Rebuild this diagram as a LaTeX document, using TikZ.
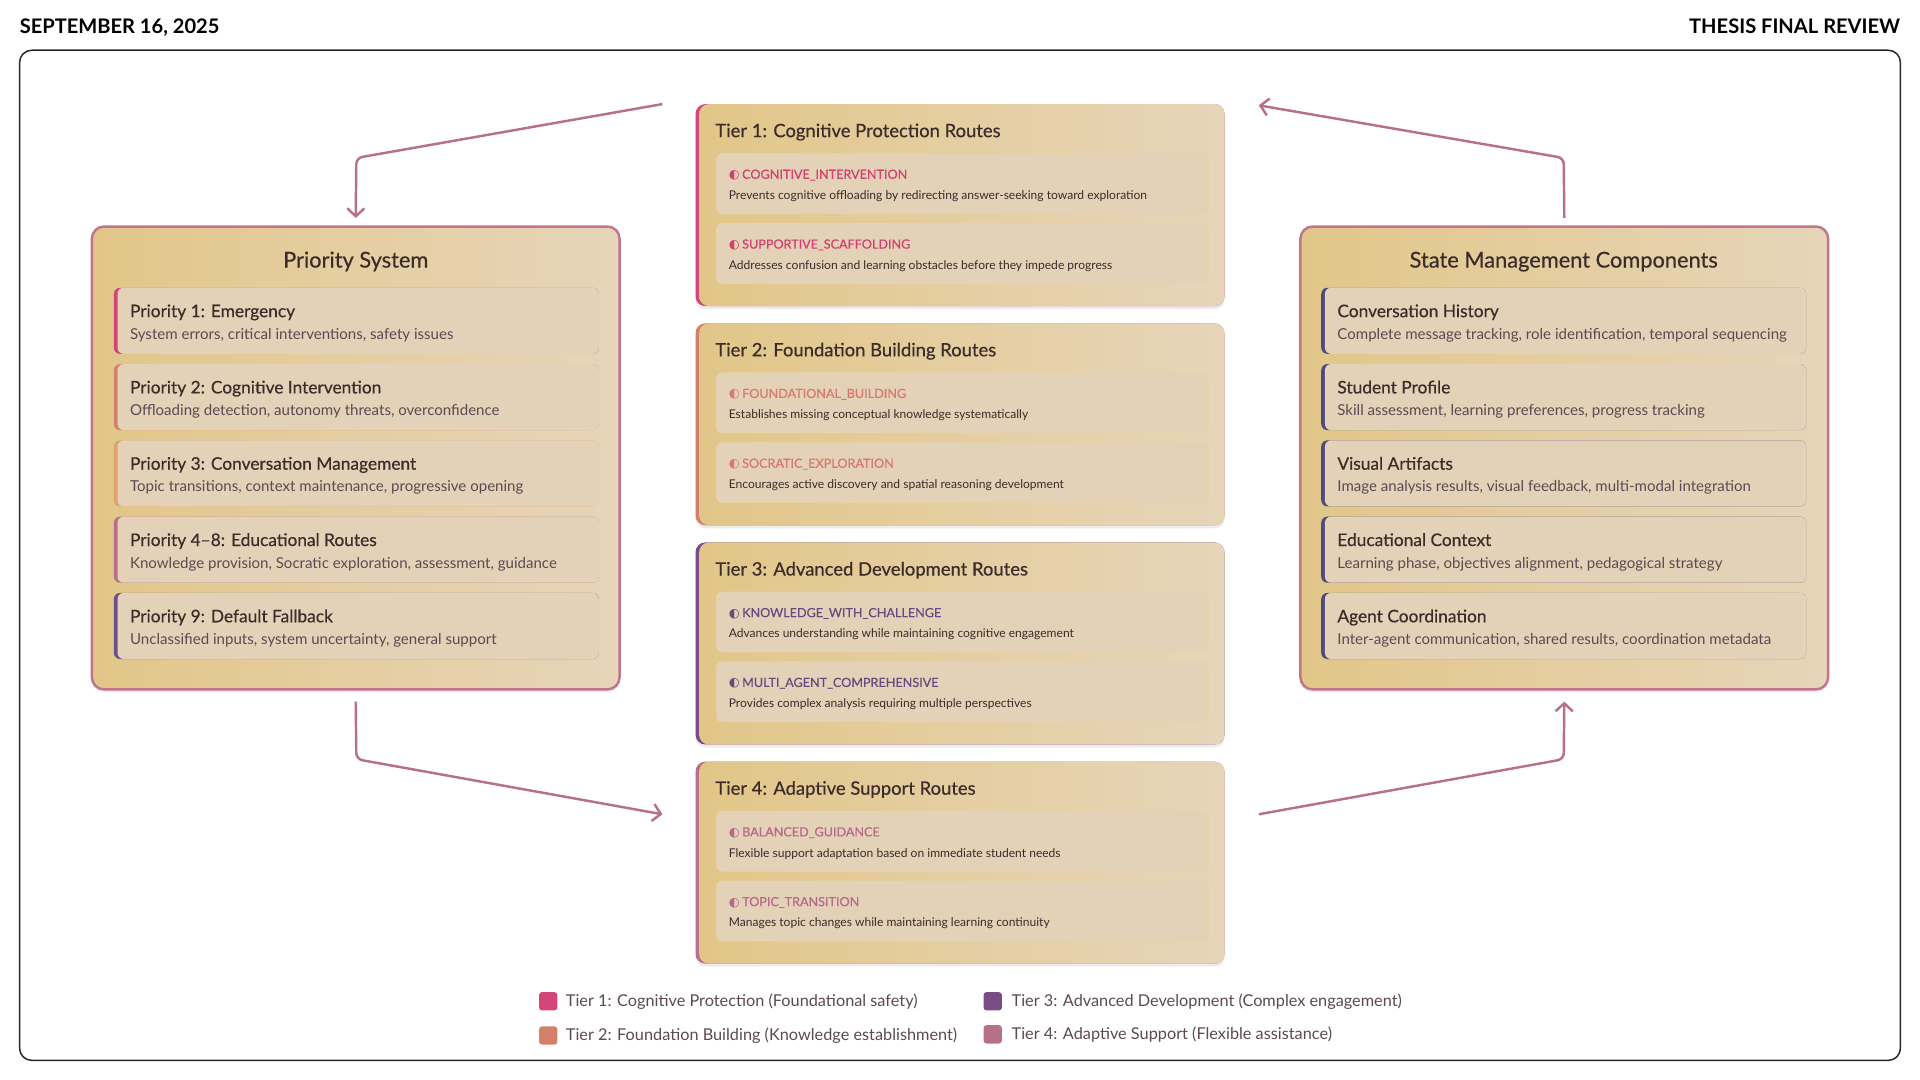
\documentclass[tikz,border=0pt]{standalone}
\usepackage{fontspec}
\setmainfont{Lato}
\newfontfamily\medf{Lato}[FakeBold=0.45]
\newfontfamily\symf{DejaVu Sans}
\usetikzlibrary{arrows.meta,shadows}
\definecolor{bord}{HTML}{C2748F}
\definecolor{boxL}{HTML}{E2C688}
\definecolor{boxR}{HTML}{E7D5BA}
\definecolor{itemc}{HTML}{E4D2B8}
\definecolor{itemline}{HTML}{E8D3A6}
\definecolor{txt}{HTML}{3B2C2A}
\definecolor{txtb}{HTML}{5C4A52}
\definecolor{arrc}{HTML}{B8708A}
\definecolor{tone}{HTML}{D4457A}
\definecolor{ttwo}{HTML}{D4806C}
\definecolor{tthree}{HTML}{7A4C85}
\definecolor{tfour}{HTML}{B8708A}
\definecolor{pthree}{HTML}{E2A26C}
\definecolor{pfive}{HTML}{6E4E8C}
\definecolor{sacc}{HTML}{4E4C7C}
\definecolor{none}{HTML}{D2406E}
\definecolor{ntwo}{HTML}{D8786E}
\definecolor{nthree}{HTML}{6A4A7E}
\definecolor{nfour}{HTML}{B8688A}
\tikzset{
  softshadow/.style={drop shadow={opacity=0.12, shadow xshift=0pt, shadow yshift=-2.5pt, fill=black!60}},
  bigbox/.style={draw=bord, line width=2pt, rounded corners=10pt, left color=boxL, right color=boxR,
    minimum width=431pt, minimum height=378pt, anchor=north west, inner sep=0pt, outer sep=0pt, softshadow},
  tierbar/.style={fill=#1, rounded corners=8pt, minimum width=432pt, minimum height=165pt,
    anchor=north west, inner sep=0pt, outer sep=0pt, softshadow},
  tierbody/.style={left color=boxL, right color=boxR, rounded corners=8pt, minimum width=429pt,
    minimum height=165pt, anchor=north west, inner sep=0pt, outer sep=0pt},
  itembar/.style={fill=#1, rounded corners=5pt, minimum width=396pt, minimum height=54pt,
    anchor=north west, inner sep=0pt, outer sep=0pt},
  itembody/.style={fill=itemc, rounded corners=5pt, minimum width=393pt, minimum height=54pt,
    anchor=north west, inner sep=0pt, outer sep=0pt},
  ritem/.style={fill=itemc, draw=itemline, line width=0.6pt, rounded corners=5pt, minimum width=402pt,
    minimum height=49pt, anchor=north west, inner sep=0pt, outer sep=0pt},
  bxtitle/.style={anchor=base, inner sep=0pt, text=txt, font=\medf\fontsize{17.8}{20}\selectfont},
  ttitle/.style={anchor=base west, inner sep=0pt, text=txt, font=\medf\fontsize{15.05}{18}\selectfont},
  ititle/.style={anchor=base west, inner sep=0pt, text=txt, font=\medf\fontsize{14.15}{17}\selectfont},
  idesc/.style={anchor=base west, inner sep=0pt, text=txtb, font=\fontsize{12.3}{14}\selectfont},
  rname/.style={anchor=base west, inner sep=0pt, font=\medf\fontsize{10.3}{12}\selectfont},
  rdesc/.style={anchor=base west, inner sep=0pt, text=txt, font=\fontsize{9.85}{12}\selectfont},
  legsq/.style={fill=#1, rounded corners=2.5pt, minimum width=15pt, minimum height=15pt,
    anchor=north west, inner sep=0pt},
  legtxt/.style={anchor=base west, inner sep=0pt, text=txtb, font=\fontsize{13.3}{15}\selectfont},
  hdr/.style={inner sep=0pt, text=black, font=\bfseries\fontsize{16.4}{18}\selectfont},
  arr/.style={draw=arrc, line width=2pt, rounded corners=5pt, -{Straight Barb[length=6.5pt,width=14pt,line width=2pt]}}
}
\newcommand\rsym{{\symf\fontsize{10.2}{11}\selectfont ◐}\hspace{2pt}}
\newcommand\mkpitem[6]{%
  \node[itembar=#4] (#1b) at (#2,#3) {};
  \node[itembody] (#1) at ([xshift=3pt]#1b.north west) {};
  \node[ititle] (#1t) at ([xshift=13pt,yshift=-24pt]#1b.north west) {#5};
  \node[idesc] (#1d) at ([xshift=13pt,yshift=-42pt]#1b.north west) {#6};
}
\newcommand\mktier[9]{%
  \node[tierbar=#3] (#1b) at (568,#2) {};
  \node[tierbody] (#1) at ([xshift=3pt]#1b.north west) {};
  \node[ttitle] (#1t) at ([xshift=16pt,yshift=-27pt]#1b.north west) {#4};
  \node[ritem] (#1ra) at ([xshift=17pt,yshift=-40.5pt]#1b.north west) {};
  \node[rname,text=#9] (#1ran) at ([xshift=10pt,yshift=-20.5pt]#1ra.north west) {\rsym#5};
  \node[rdesc] (#1rad) at ([xshift=10pt,yshift=-37.5pt]#1ra.north west) {#6};
  \node[ritem] (#1rb) at ([xshift=17pt,yshift=-97.5pt]#1b.north west) {};
  \node[rname,text=#9] (#1rbn) at ([xshift=10pt,yshift=-20.5pt]#1rb.north west) {\rsym#7};
  \node[rdesc] (#1rbd) at ([xshift=10pt,yshift=-37.5pt]#1rb.north west) {#8};
}
\begin{document}
\begin{tikzpicture}[x=1pt,y=-1pt]
\useasboundingbox (0,0) rectangle (1568,882);
\fill[white] (0,0) rectangle (1568,882);
% header
\node[hdr, anchor=base west] (date) at (16,27) {SEPTEMBER 16, 2025};
\node[hdr, anchor=base east] (thesis) at (1552,27) {THESIS FINAL REVIEW};
\draw[line width=1.2pt, draw=black!85, rounded corners=10pt] (16,41) rectangle (1552,866);

% left box
\node[bigbox] (ps) at (75,185) {};
\node[bxtitle] (pst) at (290.5,218.5) {Priority System};
\mkpitem{pa}{93}{235}{tone}{Priority 1: Emergency}{System errors, critical interventions, safety issues}
\mkpitem{pb}{93}{297.3}{ttwo}{Priority 2: Cognitive Intervention}{Offloading detection, autonomy threats, overconfidence}
\mkpitem{pc}{93}{359.6}{pthree}{Priority 3: Conversation Management}{Topic transitions, context maintenance, progressive opening}
\mkpitem{pd}{93}{421.9}{tfour}{Priority 4–8: Educational Routes}{Knowledge provision, Socratic exploration, assessment, guidance}
\mkpitem{pe}{93}{484.2}{pfive}{Priority 9: Default Fallback}{Unclassified inputs, system uncertainty, general support}

% right box
\node[bigbox] (sm) at (1062,185) {};
\node[bxtitle] (smt) at (1277,218.5) {State Management Components};
\mkpitem{sa}{1079}{235}{sacc}{Conversation History}{Complete message tracking, role identification, temporal sequencing}
\mkpitem{sb}{1079}{297.3}{sacc}{Student Profile}{Skill assessment, learning preferences, progress tracking}
\mkpitem{sc}{1079}{359.6}{sacc}{Visual Artifacts}{Image analysis results, visual feedback, multi-modal integration}
\mkpitem{sd}{1079}{421.9}{sacc}{Educational Context}{Learning phase, objectives alignment, pedagogical strategy}
\mkpitem{se}{1079}{484.2}{sacc}{Agent Coordination}{Inter-agent communication, shared results, coordination metadata}

% tiers
\mktier{ta}{85}{tone}{Tier 1: Cognitive Protection Routes}{COGNITIVE\_INTERVENTION}{Prevents cognitive offloading by redirecting answer-seeking toward exploration}{SUPPORTIVE\_SCAFFOLDING}{Addresses confusion and learning obstacles before they impede progress}{none}
\mktier{tb}{264}{ttwo}{Tier 2: Foundation Building Routes}{FOUNDATIONAL\_BUILDING}{Establishes missing conceptual knowledge systematically}{SOCRATIC\_EXPLORATION}{Encourages active discovery and spatial reasoning development}{ntwo}
\mktier{tc}{443}{tthree}{Tier 3: Advanced Development Routes}{KNOWLEDGE\_WITH\_CHALLENGE}{Advances understanding while maintaining cognitive engagement}{MULTI\_AGENT\_COMPREHENSIVE}{Provides complex analysis requiring multiple perspectives}{nthree}
\mktier{td}{622}{tfour}{Tier 4: Adaptive Support Routes}{BALANCED\_GUIDANCE}{Flexible support adaptation based on immediate student needs}{TOPIC\_TRANSITION}{Manages topic changes while maintaining learning continuity}{nfour}

% connectors
\coordinate (a1s) at ([xshift=-27pt]tab.north west);
\coordinate (a1m) at (291,129);
\coordinate (a1e) at ([yshift=7pt]ps.north);
\draw[arr] (a1s) -- (a1m) -- (a1e);
\coordinate (a2s) at ([yshift=7pt]sm.north);
\coordinate (a2m) at (1277,129);
\coordinate (a2e) at ([xshift=28pt,yshift=-1pt]ta.north east);
\draw[arr] (a2s) -- (a2m) -- (a2e);
\coordinate (a3s) at ([yshift=-10pt]ps.south);
\coordinate (a3m) at (291,620);
\coordinate (a3e) at ([xshift=-27pt,yshift=-43pt]tdb.north west);
\draw[arr] (a3s) -- (a3m) -- (a3e);
\coordinate (a4s) at ([xshift=28pt,yshift=-43pt]td.north east);
\coordinate (a4m) at (1277,620);
\coordinate (a4e) at ([yshift=-10pt]sm.south);
\draw[arr] (a4s) -- (a4m) -- (a4e);

% legend
\node[legsq=tone] (la) at (440,810) {};
\node[legtxt] (lat) at (462,822) {Tier 1: Cognitive Protection (Foundational safety)};
\node[legsq=ttwo] (lb) at (440,838) {};
\node[legtxt] (lbt) at (462,850) {Tier 2: Foundation Building (Knowledge establishment)};
\node[legsq=tthree] (lc) at (803,810) {};
\node[legtxt] (lct) at (826,822) {Tier 3: Advanced Development (Complex engagement)};
\node[legsq=tfour] (ld) at (803,837) {};
\node[legtxt] (ldt) at (826,849) {Tier 4: Adaptive Support (Flexible assistance)};
\end{tikzpicture}
\end{document}
